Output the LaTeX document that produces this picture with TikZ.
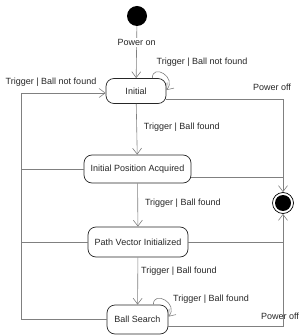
\documentclass[tikz,border=0pt]{standalone}
\usepackage{fontspec}
\setmainfont{Liberation Sans}
\usetikzlibrary{arrows.meta}
\begin{document}
\begin{tikzpicture}[x=1pt,y=-1pt,
  font=\fontsize{9}{10}\selectfont,
  state/.style={draw=black!85,line width=0.7pt,rounded corners=8pt,inner sep=0pt,text=black!85},
  conn/.style={draw=black!50,line width=0.6pt},
  arr/.style={conn,-{Straight Barb[length=6pt,width=9pt,line width=0.6pt]}},
  lab/.style={text=black!85,inner sep=1pt}]
\useasboundingbox (0,0) rectangle (300,336);
\node[circle,fill=black,minimum size=20pt,inner sep=0pt] (start) at (137,16) {};
\node[state,minimum width=60pt,minimum height=25pt] (init) at (136,91) {Initial};
\node[state,minimum width=107pt,minimum height=28pt] (ipa) at (137.5,169) {Initial Position Acquired};
\node[state,minimum width=100pt,minimum height=30pt] (pvi) at (138,242) {Path Vector Initialized};
\node[state,minimum width=61pt,minimum height=29pt] (bs) at (137.5,319.5) {Ball Search};
\node[circle,draw=black,line width=0.7pt,minimum size=21pt,inner sep=0pt] (final) at (283,203) {};
\node[circle,fill=black,minimum size=16pt,inner sep=0pt] (finalin) at (final) {};
\coordinate (lx) at (21,0);
% main flow
\draw[arr] (start) -- node[pos=0.31,fill=white,lab,inner sep=1.5pt] (l1) {Power on} (init);
\draw[arr] (init) -- node[pos=0.45,lab,anchor=west,xshift=6pt] (l2) {Trigger | Ball found} (ipa);
\draw[arr] (ipa) -- node[pos=0.45,lab,anchor=west,xshift=6pt] (l3) {Trigger | Ball found} (pvi);
\draw[arr] (pvi) -- node[pos=0.3,lab,anchor=west,xshift=2pt] (l4) {Trigger | Ball found} (bs);
% self loops
\draw[arr] ([xshift=-14pt]init.north east) .. controls +(0,-15) and +(11,-13) .. ([yshift=-12pt]init.north east);
\node[lab] (l5) at (202,62) {Trigger | Ball not found};
\draw[arr] ([xshift=-15pt]bs.north east) .. controls +(0,-15) and +(11,-13) .. ([yshift=-12pt]bs.north east);
\node[lab] (l6) at (211,299) {Trigger | Ball found};
% left return
\draw[arr] (bs.west) -- (bs.west -| lx) |- ([yshift=-2pt]init.west);
\draw[conn] (ipa.west) -- (ipa.west -| lx);
\draw[conn] (pvi.west) -- (pvi.west -| lx);
\node[lab] (l7) at (51,82) {Trigger | Ball not found};
% right to final
\draw[arr] ([yshift=-8pt]init.east) -| (final.north);
\draw[conn] ([yshift=-8pt]ipa.east) -- ([yshift=-8pt]ipa.east -| final);
\draw[conn] (pvi.east) -- (pvi.east -| final);
\draw[arr] ([yshift=-6.5pt]bs.east) -| (final.south);
\node[lab] (l8) at (272,87) {Power off};
\node[lab] (l9) at (280,316) {Power off};
\end{tikzpicture}
\end{document}
